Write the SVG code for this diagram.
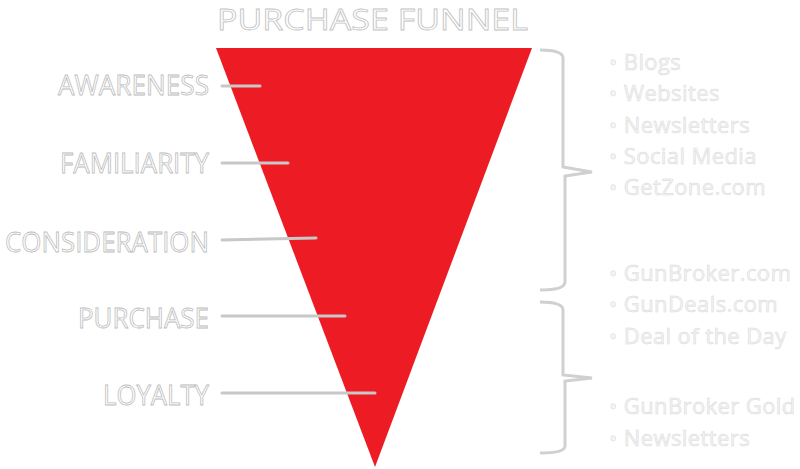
<svg xmlns="http://www.w3.org/2000/svg" width="800" height="469" viewBox="0 0 800 469">
<style>
.title{font-family:"Open Sans","Liberation Sans",sans-serif;font-size:29px;fill:#ffffff;stroke:#c4c4c4;stroke-width:0.8}
.stage{font-family:"Open Sans","Liberation Sans",sans-serif;font-size:27px;fill:#ffffff;stroke:#bdbdbd;stroke-width:0.8;text-anchor:end}
.item{font-family:"Open Sans","Liberation Sans",sans-serif;font-size:22px;letter-spacing:0.4px;fill:#f4f4f4;stroke:#d8d8d8;stroke-width:0.5}
.lead{stroke:#c8c8c8;stroke-width:3;fill:none;stroke-linecap:round}
.brace{stroke:#d0d0d0;stroke-width:3;fill:none;stroke-linejoin:miter}
</style>
<rect width="800" height="469" fill="#ffffff"/>
<g id="title"><text class="title" x="217" y="30" textLength="311" lengthAdjust="spacingAndGlyphs">PURCHASE FUNNEL</text></g>
<g id="funnel"><polygon points="216,48 532,48 375,467" fill="#ED1C24"/></g>
<g id="connectors">
<line class="lead" x1="222" y1="86" x2="260" y2="86"/>
<line class="lead" x1="222" y1="163" x2="288" y2="163"/>
<line class="lead" x1="222" y1="240" x2="316" y2="238"/>
<line class="lead" x1="222" y1="316" x2="345" y2="316"/>
<line class="lead" x1="222" y1="393" x2="375" y2="393"/>
<path class="brace" d="M540,50 Q563,50 563,58 L563,167 L592,172 L565,176 L565,282 Q565,290 540,290"/>
<path class="brace" d="M540,302 Q563,302 563,310 L563,375 L592,378 L565,381 L565,446 Q565,453 540,453"/>
</g>
<g id="awareness"><text class="stage" x="209" y="95" textLength="151" lengthAdjust="spacingAndGlyphs">AWARENESS</text></g>
<g id="familiarity"><text class="stage" x="209" y="173" textLength="149" lengthAdjust="spacingAndGlyphs">FAMILIARITY</text></g>
<g id="consideration"><text class="stage" x="209" y="252" textLength="204" lengthAdjust="spacingAndGlyphs">CONSIDERATION</text></g>
<g id="purchase"><text class="stage" x="209" y="328" textLength="131" lengthAdjust="spacingAndGlyphs">PURCHASE</text></g>
<g id="loyalty"><text class="stage" x="209" y="405" textLength="106" lengthAdjust="spacingAndGlyphs">LOYALTY</text></g>
<g id="list1">
<text class="item" x="609" y="70">• Blogs</text>
<text class="item" x="609" y="101">• Websites</text>
<text class="item" x="609" y="133">• Newsletters</text>
<text class="item" x="609" y="164">• Social Media</text>
<text class="item" x="609" y="195">• GetZone.com</text>
</g>
<g id="list2">
<text class="item" x="609" y="281">• GunBroker.com</text>
<text class="item" x="609" y="312">• GunDeals.com</text>
<text class="item" x="609" y="344">• Deal of the Day</text>
</g>
<g id="list3">
<text class="item" x="609" y="414">• GunBroker Gold</text>
<text class="item" x="609" y="446">• Newsletters</text>
</g>
</svg>
